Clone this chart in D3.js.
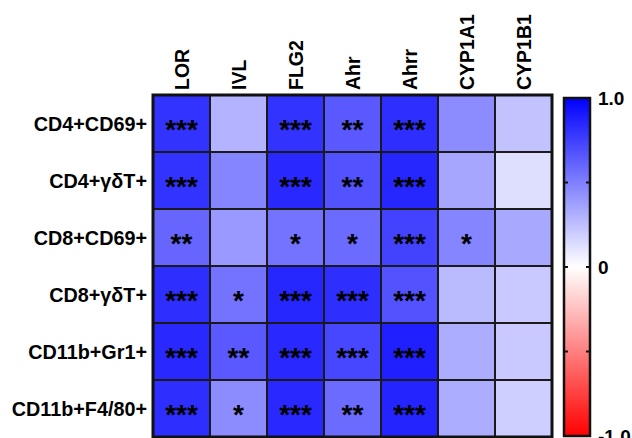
<!DOCTYPE html>
<html>
<head>
<meta charset="utf-8">
<script src="https://cdn.jsdelivr.net/npm/d3@7"></script>
<style>
  body { margin: 0; background: #fff; }
  text { font-family: "Liberation Sans", Arial, sans-serif; }
</style>
</head>
<body>
<div id="main"></div>
<script>
const genes = ['LOR', 'IVL', 'FLG2', 'Ahr', 'Ahrr', 'CYP1A1', 'CYP1B1'];
const cells = ['CD4+CD69+', 'CD4+\u03b3\u03b4T+', 'CD8+CD69+', 'CD8+\u03b3\u03b4T+', 'CD11b+Gr1+', 'CD11b+F4/80+'];

// correlation per row (cell type), one value per gene
const corr = [
  [0.80, 0.30, 0.80, 0.65, 0.82, 0.45, 0.24],
  [0.80, 0.48, 0.84, 0.68, 0.85, 0.35, 0.13],
  [0.60, 0.40, 0.55, 0.58, 0.74, 0.48, 0.34],
  [0.82, 0.55, 0.85, 0.82, 0.68, 0.27, 0.21],
  [0.84, 0.65, 0.84, 0.72, 0.88, 0.32, 0.21],
  [0.82, 0.45, 0.84, 0.58, 0.86, 0.32, 0.19]
];
const stars = [
  ['***', '', '***', '**', '***', '', ''],
  ['***', '', '***', '**', '***', '', ''],
  ['**', '', '*', '*', '***', '*', ''],
  ['***', '*', '***', '***', '***', '', ''],
  ['***', '**', '***', '***', '***', '', ''],
  ['***', '*', '***', '**', '***', '', '']
];
const barTicks = [1, 0.5, 0, -0.5, -1];
const barLabels = [[1, '1.0'], [0, '0'], [-1, '-1.0']];

const W = 632, H = 438;
const svg = d3.select('#main').append('svg')
  .attr('width', W)
  .attr('height', H);

const x = d3.scaleBand().domain(genes).range([153, 552]);
const y = d3.scaleBand().domain(cells).range([95, 437]);

const color = d3.scaleLinear()
  .domain([-1, 0, 1])
  .range(['#ff0000', '#ffffff', '#0000ff']);

var data = [];
cells.forEach((c, i) => {
  genes.forEach((g, j) => {
    data.push({ cell: c, gene: g, v: corr[i][j], s: stars[i][j] });
  });
});

var g = svg.append('g');

g.selectAll('.cell')
  .data(data)
.enter().append('rect')
  .attr('class', 'cell')
  .attr('x', (d) => x(d.gene))
  .attr('y', (d) => y(d.cell))
  .attr('width', x.bandwidth())
  .attr('height', y.bandwidth())
  .attr('fill', (d) => color(d.v))
  .attr('stroke', '#1a1a1a')
  .attr('stroke-width', 2);

g.selectAll('.star')
  .data(data.filter((d) => d.s))
.enter().append('text')
  .attr('class', 'star')
  .attr('x', (d) => x(d.gene) + x.bandwidth() / 2)
  .attr('y', (d) => y(d.cell) + y.bandwidth() / 2 + 15)
  .attr('text-anchor', 'middle')
  .attr('font-size', 28)
  .attr('font-weight', 'bold')
  .attr('fill', '#000')
  .text((d) => d.s);

// outer frame
g.append('rect')
  .attr('x', x.range()[0])
  .attr('y', y.range()[0])
  .attr('width', x.range()[1] - x.range()[0])
  .attr('height', y.range()[1] - y.range()[0])
  .attr('fill', 'none')
  .attr('stroke', '#111')
  .attr('stroke-width', 3);

// row labels
g.selectAll('.rowlab')
  .data(cells)
.enter().append('text')
  .attr('class', 'rowlab')
  .attr('x', 147)
  .attr('y', (d) => y(d) + y.bandwidth() / 2 + 7)
  .attr('text-anchor', 'end')
  .attr('font-size', 19.8)
  .attr('font-weight', 'bold')
  .text((d) => d);

// column labels
g.selectAll('.collab')
  .data(genes)
.enter().append('text')
  .attr('class', 'collab')
  .attr('transform', (d) => 'translate(' + (x(d) + x.bandwidth() / 2 + 7) + ',90) rotate(-90)')
  .attr('font-size', 19.5)
  .attr('font-weight', 'bold')
  .text((d) => d);

// colour bar
var by = d3.scaleLinear().domain([-1, 1]).range([436, 98]);
var bx0 = 564, bw = 26;

var grad = svg.append('defs').append('linearGradient')
  .attr('id', 'bar')
  .attr('x1', 0).attr('y1', 1)
  .attr('x2', 0).attr('y2', 0);
grad.selectAll('stop')
  .data([-1, 0, 1])
.enter().append('stop')
  .attr('offset', (d) => (d + 1) / 2)
  .attr('stop-color', (d) => color(d));

var bar = svg.append('g');
bar.append('rect')
  .attr('x', bx0)
  .attr('y', by(1))
  .attr('width', bw)
  .attr('height', by(-1) - by(1))
  .attr('fill', 'url(#bar)')
  .attr('stroke', '#111')
  .attr('stroke-width', 2.5);

bar.selectAll('.tl')
  .data(barTicks.slice(1, 4))
.enter().append('line')
  .attr('x1', bx0)
  .attr('x2', bx0 + 4)
  .attr('y1', (d) => by(d))
  .attr('y2', (d) => by(d))
  .attr('stroke', '#111')
  .attr('stroke-width', 2);
bar.selectAll('.tr')
  .data(barTicks.slice(1, 4))
.enter().append('line')
  .attr('x1', bx0 + bw - 4)
  .attr('x2', bx0 + bw)
  .attr('y1', (d) => by(d))
  .attr('y2', (d) => by(d))
  .attr('stroke', '#111')
  .attr('stroke-width', 2);

bar.selectAll('.blab')
  .data(barLabels)
.enter().append('text')
  .attr('x', 598)
  .attr('y', (d) => by(d[0]) + 7)
  .attr('font-size', 19)
  .attr('font-weight', 'bold')
  .text((d) => d[1]);
</script>
</body>
</html>
